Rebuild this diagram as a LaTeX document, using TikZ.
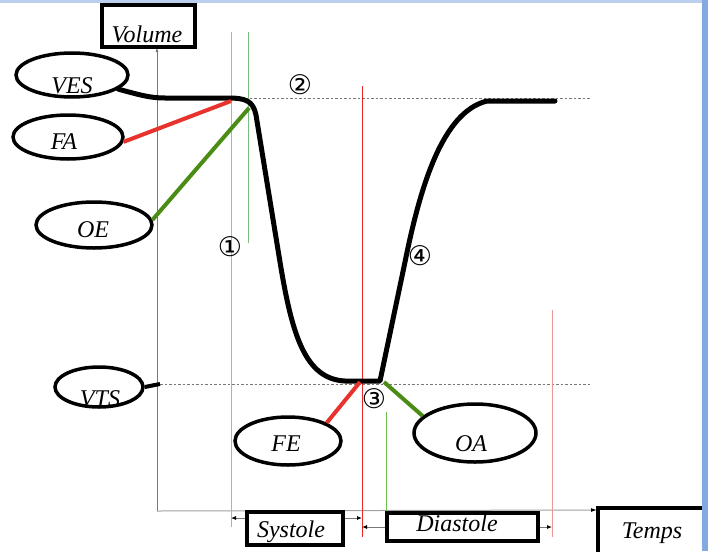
\documentclass[tikz,border=0pt]{standalone}
\usepackage{fontspec}
\setmainfont{Liberation Serif}
\newfontfamily\symfont{DejaVu Sans}
\usetikzlibrary{shapes.geometric,arrows.meta}
\definecolor{fared}{RGB}{232,50,45}
\definecolor{oegreen}{RGB}{75,140,20}
\definecolor{pinkl}{RGB}{240,150,150}
\definecolor{redl}{RGB}{232,40,40}
\definecolor{greenl}{RGB}{120,190,130}
\definecolor{greenm}{RGB}{110,190,80}
\definecolor{frameblue}{RGB}{130,170,225}
\definecolor{axisgray}{RGB}{120,120,120}
\begin{document}
\begin{tikzpicture}[x=1pt,y=-1pt,
  lbl/.style={font=\itshape\fontsize{24}{24}\selectfont, inner sep=0pt, anchor=base},
  oval/.style={ellipse, draw, line width=3.5pt, fill=white, inner sep=0pt},
  tbox/.style={draw, line width=3.5pt},
  num/.style={font=\symfont\fontsize{27}{27}\selectfont, inner sep=0pt},
  curve/.style={line width=5pt, line join=round, line cap=round},
  vline/.style={line width=1pt},
  guide/.style={axisgray, line width=0.8pt, dash pattern=on 2.5pt off 2pt},
  pointer/.style={line width=4pt},
  span/.style={axisgray, line width=0.8pt, {Latex[length=5pt,width=4pt,black]}-{Latex[length=5pt,width=4pt,black]}}
]
\useasboundingbox (0,0) rectangle (708,551);
% frame of the screenshot
\fill[frameblue!55] (0,0) rectangle (708,3);
\fill[frameblue] (702,0) rectangle (708,551);

% axes
\coordinate (O) at (157,511);
\coordinate (ytop) at (157,47);
\coordinate (xend) at (597,510);
\draw[axisgray, line width=0.8pt, -{Latex[length=5pt,width=3pt]}] (O) -- (ytop);
\draw[axisgray!70, line width=1pt, -{Latex[length=6pt,width=4pt,black]}] (O) -- (xend);

% guide lines
\draw[guide] (245,98) -- (590,98);
\draw[guide] (160,384) -- (590,384);

% vertical phase lines
\draw[vline, pinkl] (231,32) -- (231,527);
\draw[vline, greenl] (248,32) -- (248,243);
\draw[vline, redl] (362,86) -- (362,537);
\draw[vline, greenm] (386,412) -- (386,537);
\draw[vline, pinkl] (552,310) -- (552,537);

% ovals
\node[oval, minimum width=112, minimum height=44] (ves) at (72,75) {};
\node[oval, minimum width=110, minimum height=44] (fa) at (68,137) {};
\node[oval, minimum width=116, minimum height=46] (oe) at (94,225) {};
\node[oval, minimum width=88, minimum height=40] (vts) at (99,387) {};
\node[oval, minimum width=106, minimum height=48] (fe) at (288,441) {};
\node[oval, minimum width=122, minimum height=58] (oa) at (475,433) {};

\node[lbl] (vesT) at (72,93) {VES};
\node[lbl] (faT) at (64,149) {FA};
\node[lbl] (oeT) at (93,237) {OE};
\node[lbl] (vtsT) at (100,406) {VTS};
\node[lbl] (feT) at (286,451) {FE};
\node[lbl] (oaT) at (471,451) {OA};

% curve key points
\coordinate (pFA) at (231,101);
\coordinate (pOE) at (249,108);
\coordinate (pFE) at (360,382);
\coordinate (pOA) at (384,382);
\coordinate (pVTS) at (160,384);

% volume curve
\draw[curve] (ves.-17) .. controls (140,95) and (150,98) .. (165,98) -- (228,98)
  .. controls (246,98) and (253,101) .. (256,115) -- (280,262)
  .. controls (292,335) and (305,379) .. (345,381) -- (380,381) -- (405,262)
  .. controls (420,188) and (442,112) .. (487,101) -- (555,101);

% pointers
\draw[pointer, fared] (fa.-5) -- (pFA);
\draw[pointer, oegreen] (oe.5) -- (pOE);
\draw[line width=4pt] (vts.east) -- (pVTS);
\draw[pointer, fared] (fe.north east) -- (pFE);
\draw[pointer, oegreen] (oa.162) -- (pOA);

% numbers
\node[num] (n1) at (230,247) {①};
\node[num] (n2) at (300,85) {②};
\node[num] (n3) at (374,399) {③};
\node[num] (n4) at (420,256) {④};

% axis title boxes
\node[tbox, minimum width=93, minimum height=42] (vol) at (148.5,26) {};
\node[lbl] (volT) at (147,42) {Volume};

% phase spans
\coordinate (s1) at (231,518);
\coordinate (s2) at (362,518);
\coordinate (d1) at (362,527);
\coordinate (d2) at (552,527);
\draw[span] (s1) -- (s2);
\draw[span] (d1) -- (d2);
\node[tbox, fill=white, minimum width=96, minimum height=33] (sys) at (295,528.5) {};
\node[lbl] (sysT) at (291,537) {Systole};
\node[tbox, fill=white, minimum width=151, minimum height=28] (dia) at (462.5,527) {};
\node[lbl] (diaT) at (457,531) {Diastole};

% Temps box (cut by the frame)
\draw[line width=3.5pt] (598,560) -- (598,508) -- (702,508);
\node[lbl] (tempsT) at (652,538) {Temps};
\end{tikzpicture}
\end{document}
